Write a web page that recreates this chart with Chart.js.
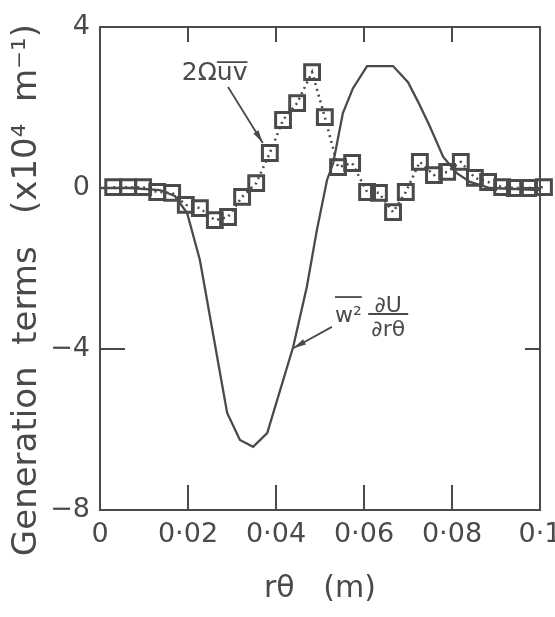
<!DOCTYPE html>
<html>
<head>
<meta charset="utf-8">
<script src="https://cdn.jsdelivr.net/npm/chart.js@4.4.0/dist/chart.umd.min.js"></script>
<style>
  html, body { margin: 0; padding: 0; background: #fff; }
  #wrap { width: 555px; height: 617px; }
</style>
</head>
<body>
<div id="wrap"><canvas id="myChart" width="555" height="617"></canvas></div>
<script>
var INK = '#4a4a4a';
var FONT = "'DejaVu Sans', sans-serif";

// 2 Omega uv  (squares, dotted)
var uvX = [0.0030, 0.0064, 0.0098, 0.0130, 0.0164, 0.0195, 0.0227, 0.0261, 0.0291, 0.0323,
           0.0355, 0.0386, 0.0416, 0.0448, 0.0482, 0.0511, 0.0541, 0.0573, 0.0607, 0.0634,
           0.0666, 0.0695, 0.0727, 0.0759, 0.0789, 0.0820, 0.0852, 0.0882, 0.0914, 0.0943,
           0.0973, 0.1009];
var uvY = [0.02, 0.02, 0.02, -0.10, -0.12, -0.42, -0.50, -0.80, -0.72, -0.22,
           0.12, 0.87, 1.69, 2.11, 2.88, 1.76, 0.52, 0.62, -0.10, -0.12,
           -0.60, -0.10, 0.65, 0.32, 0.40, 0.65, 0.25, 0.15, 0.02, 0.00,
           0.00, 0.02];

// w^2 dU/d(r theta)  (solid line)
var wX = [0, 0.0068, 0.0136, 0.0170, 0.0198, 0.0227, 0.0289, 0.0318, 0.0348, 0.0380,
          0.0439, 0.0470, 0.0493, 0.0516, 0.0530, 0.0552, 0.0575, 0.0607, 0.0666, 0.0700,
          0.0723, 0.0750, 0.0780, 0.0811, 0.0841, 0.0886, 0.1000];
var wY = [0, 0, -0.05, -0.20, -0.62, -1.79, -5.59, -6.26, -6.43, -6.09,
          -3.95, -2.46, -1.04, 0.20, 0.62, 1.86, 2.48, 3.03, 3.03, 2.63,
          2.14, 1.52, 0.77, 0.37, 0.15, 0.00, -0.05];

var xTicks = [0, 0.02, 0.04, 0.06, 0.08, 0.1];
var xTickLabels = ['0', '0·02', '0·04', '0·06', '0·08', '0·1'];
var yTicks = [-8, -4, 0, 4];
var yTickLabels = ['−8', '−4', '0', '4'];

function pts(xs, ys) {
  return xs.map(function (x, i) { return { x: x, y: ys[i] }; });
}

function arrow(ctx, x1, y1, x2, y2) {
  var a = Math.atan2(y2 - y1, x2 - x1);
  ctx.beginPath();
  ctx.moveTo(x1, y1);
  ctx.lineTo(x2, y2);
  ctx.stroke();
  ctx.beginPath();
  ctx.moveTo(x2, y2);
  ctx.lineTo(x2 - 13 * Math.cos(a) + 3 * Math.sin(a), y2 - 13 * Math.sin(a) - 3 * Math.cos(a));
  ctx.lineTo(x2 - 13 * Math.cos(a) - 3 * Math.sin(a), y2 - 13 * Math.sin(a) + 3 * Math.cos(a));
  ctx.closePath();
  ctx.fill();
}

// frame, inward tick marks and the two curve labels
var decor = {
  id: 'decor',
  afterDatasetsDraw: function (chart) {
    var ctx = chart.ctx, a = chart.chartArea;
    var xs = chart.scales.x, ys = chart.scales.y;
    ctx.save();
    ctx.strokeStyle = INK;
    ctx.fillStyle = INK;
    ctx.lineWidth = 2;
    ctx.strokeRect(a.left, a.top, a.right - a.left, a.bottom - a.top);

    [0.02, 0.04, 0.06, 0.08].forEach(function (v) {
      var px = xs.getPixelForValue(v);
      ctx.beginPath();
      ctx.moveTo(px, a.bottom); ctx.lineTo(px, a.bottom - 25);
      ctx.moveTo(px, a.top); ctx.lineTo(px, a.top + 15);
      ctx.stroke();
    });
    [-4, 0].forEach(function (v) {
      var py = ys.getPixelForValue(v);
      ctx.beginPath();
      ctx.moveTo(a.left, py); ctx.lineTo(a.left + 25, py);
      ctx.moveTo(a.right, py); ctx.lineTo(a.right - 15, py);
      ctx.stroke();
    });

    // 2 Omega uv label + arrow
    ctx.lineWidth = 1.8;
    var lx = xs.getPixelForValue(0.0186), ly = ys.getPixelForValue(2.68);
    ctx.font = '25px ' + FONT;
    ctx.textBaseline = 'alphabetic';
    ctx.textAlign = 'left';
    ctx.fillText('2Ω', lx, ly);
    var w1 = ctx.measureText('2Ω').width;
    ctx.fillText('uv', lx + w1, ly);
    var w2 = ctx.measureText('uv').width;
    ctx.beginPath();
    ctx.moveTo(lx + w1, ly - 18); ctx.lineTo(lx + w1 + w2, ly - 18);
    ctx.stroke();
    arrow(ctx, xs.getPixelForValue(0.0291), ys.getPixelForValue(2.51),
               xs.getPixelForValue(0.0370), ys.getPixelForValue(1.12));

    // w^2 dU/d(r theta) label + arrow
    var mx = xs.getPixelForValue(0.0534), my = ys.getPixelForValue(-3.33);
    ctx.font = '22px ' + FONT;
    ctx.fillText('w²', mx, my);
    var ww = ctx.measureText('w²').width;
    ctx.beginPath();
    ctx.moveTo(mx, my - 25); ctx.lineTo(mx + ww, my - 25);
    ctx.stroke();
    var fx = xs.getPixelForValue(0.0655), fy = ys.getPixelForValue(-3.13);
    ctx.textAlign = 'center';
    ctx.fillText('∂U', fx, fy - 2);
    ctx.fillText('∂rθ', fx, fy + 22);
    ctx.beginPath();
    ctx.moveTo(fx - 20, fy); ctx.lineTo(fx + 20, fy);
    ctx.stroke();
    arrow(ctx, xs.getPixelForValue(0.0527), ys.getPixelForValue(-3.45),
               xs.getPixelForValue(0.0439), ys.getPixelForValue(-3.98));
    ctx.restore();
  }
};

var ctx = document.getElementById('myChart').getContext('2d');
var myChart = new Chart(ctx, {
  type: 'scatter',
  data: {
    datasets: [{
      label: 'w2 dU/drθ',
      data: pts(wX, wY),
      showLine: true,
      borderColor: INK,
      borderWidth: 2.3,
      pointRadius: 0,
      tension: 0,
      clip: false
    }, {
      label: '2Ωuv',
      data: pts(uvX, uvY),
      showLine: true,
      borderColor: INK,
      borderWidth: 2.5,
      borderDash: [2, 4],
      pointStyle: 'rect',
      pointRadius: 10.5,
      pointBorderWidth: 3,
      pointBorderColor: INK,
      pointBackgroundColor: 'rgba(255,255,255,0)',
      tension: 0,
      clip: false
    }]
  },
  options: {
    responsive: false,
    animation: false,
    layout: { padding: { top: 27, right: 15, left: 0, bottom: 0 } },
    plugins: { legend: { display: false }, tooltip: { enabled: false } },
    scales: {
      x: {
        type: 'linear', min: 0, max: 0.1,
        grid: { display: false, drawTicks: false },
        border: { display: false },
        afterBuildTicks: function (s) { s.ticks = xTicks.map(function (v) { return { value: v }; }); },
        afterFit: function (s) { s.height = 107; s.paddingLeft = 0; s.paddingRight = 0; },
        ticks: {
          color: INK, padding: 9, maxRotation: 0, autoSkip: false,
          font: { family: FONT, size: 27 },
          callback: function (v, i) { return xTickLabels[i]; }
        },
        title: {
          display: true, text: 'rθ   (m)', color: INK,
          font: { family: FONT, size: 30 },
          padding: { top: 0, bottom: 10 }
        }
      },
      y: {
        type: 'linear', min: -8, max: 4,
        grid: { display: false, drawTicks: false },
        border: { display: false },
        afterBuildTicks: function (s) { s.ticks = yTicks.map(function (v) { return { value: v }; }); },
        afterFit: function (s) { s.width = 100; s.paddingTop = 0; s.paddingBottom = 0; },
        ticks: {
          color: INK, padding: 10, autoSkip: false,
          font: { family: FONT, size: 27 },
          callback: function (v, i) { return yTickLabels[i]; }
        },
        title: {
          display: true, text: 'Generation  terms   (x10⁴  m⁻¹)    ', color: INK,
          font: { family: FONT, size: 34 },
          padding: { top: 7, bottom: 0 }
        }
      }
    }
  },
  plugins: [decor]
});
</script>
</body>
</html>
